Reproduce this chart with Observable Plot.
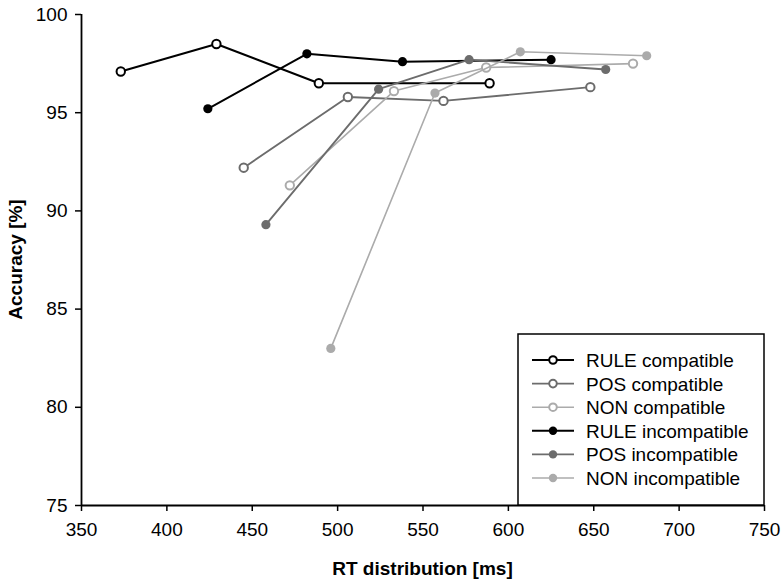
<!DOCTYPE html>
<html>
<head>
<meta charset="utf-8">
<script src="https://cdn.jsdelivr.net/npm/d3@7"></script>
<script src="https://cdn.jsdelivr.net/npm/@observablehq/plot@0.6"></script>
<style>
  body { margin: 0; background: #ffffff; }
  #chart svg { display: block; }
</style>
</head>
<body>
<div id="chart"></div>
<script>
// ---- data ----
const seriesNames = ["RULE compatible", "POS compatible", "NON compatible",
                     "RULE incompatible", "POS incompatible", "NON incompatible"];
const rtRuleCompatible   = [373, 429, 489, 589];
const accRuleCompatible  = [97.1, 98.5, 96.5, 96.5];
const rtPosCompatible    = [445, 506, 562, 648];
const accPosCompatible   = [92.2, 95.8, 95.6, 96.3];
const rtNonCompatible    = [472, 533, 587, 673];
const accNonCompatible   = [91.3, 96.1, 97.3, 97.5];
const rtRuleIncompatible  = [424, 482, 538, 625];
const accRuleIncompatible = [95.2, 98.0, 97.6, 97.7];
const rtPosIncompatible   = [458, 524, 577, 657];
const accPosIncompatible  = [89.3, 96.2, 97.7, 97.2];
const rtNonIncompatible   = [496, 557, 607, 681];
const accNonIncompatible  = [83.0, 96.0, 98.1, 97.9];
const xTicks = [350, 400, 450, 500, 550, 600, 650, 700, 750];
const yTicks = [75, 80, 85, 90, 95, 100];
const xTitle = "RT distribution [ms]";
const yTitle = "Accuracy [%]";

// ---- styling ----
const seriesColors = ["#000000", "#6c6c6c", "#ababab", "#000000", "#6c6c6c", "#ababab"];
const seriesFilled = [false, false, false, true, true, true];
const seriesWidth  = [2, 1.9, 1.6, 2, 1.9, 1.6];

const rts  = [rtRuleCompatible, rtPosCompatible, rtNonCompatible, rtRuleIncompatible, rtPosIncompatible, rtNonIncompatible];
const accs = [accRuleCompatible, accPosCompatible, accNonCompatible, accRuleIncompatible, accPosIncompatible, accNonIncompatible];

const W = 784, H = 585, mL = 81, mR = 20, mT = 14, mB = 80;
const FS = 19;

const marks = [];
seriesNames.forEach((name, i) => {
  const rows = rts[i].map((rt, j) => ({series: name, rt, acc: accs[i][j]}));
  marks.push(Plot.line(rows, {x: "rt", y: "acc", stroke: seriesColors[i], strokeWidth: seriesWidth[i]}));
  marks.push(Plot.dot(rows, {
    x: "rt", y: "acc",
    r: seriesFilled[i] ? 4.6 : 4.2,
    fill: seriesFilled[i] ? seriesColors[i] : "#ffffff",
    stroke: seriesColors[i],
    strokeWidth: seriesFilled[i] ? 0 : 2
  }));
});

const chart = Plot.plot({
  width: W, height: H,
  marginLeft: mL, marginRight: mR, marginTop: mT, marginBottom: mB,
  style: {fontFamily: "'Liberation Sans', Arial, sans-serif", fontSize: FS + "px", color: "#000", background: "#ffffff"},
  x: {domain: [350, 750]},
  y: {domain: [75, 100]},
  marks: [
    Plot.axisX({ticks: xTicks, tickSize: 6, tickPadding: 11, label: null, stroke: "#000", strokeWidth: 1.5, fill: "#000"}),
    Plot.axisY({ticks: yTicks, tickSize: 6, tickPadding: 8, label: null, stroke: "#000", strokeWidth: 1.5, fill: "#000"}),
    Plot.ruleY([75], {stroke: "#000", strokeWidth: 1.8}),
    Plot.ruleX([350], {stroke: "#000", strokeWidth: 1.8}),
    ...marks
  ]
});

document.getElementById("chart").appendChild(chart);

// ---- titles and legend ----
const svg = d3.select(chart);
const plotRight = W - mR, plotBottom = H - mB;

svg.append("text")
  .attr("x", (mL + plotRight) / 2).attr("y", 575)
  .attr("text-anchor", "middle")
  .attr("font-weight", "bold").attr("font-size", FS)
  .attr("fill", "#000")
  .text(xTitle);

svg.append("text")
  .attr("transform", `translate(22,${(mT + plotBottom) / 2}) rotate(-90)`)
  .attr("text-anchor", "middle")
  .attr("font-weight", "bold").attr("font-size", FS)
  .attr("fill", "#000")
  .text(yTitle);

const lgX = 518, lgY = 334, lgW = plotRight - lgX, lgH = plotBottom - lgY;
const lg = svg.append("g").attr("text-anchor", "start");
lg.append("rect")
  .attr("x", lgX).attr("y", lgY).attr("width", lgW).attr("height", lgH)
  .attr("fill", "#ffffff").attr("stroke", "#000").attr("stroke-width", 1.5);

seriesNames.forEach((name, i) => {
  const cy = 360 + i * 23.6;
  lg.append("line")
    .attr("x1", 532).attr("x2", 574).attr("y1", cy).attr("y2", cy)
    .attr("stroke", seriesColors[i]).attr("stroke-width", seriesWidth[i]);
  lg.append("circle")
    .attr("cx", 553).attr("cy", cy)
    .attr("r", seriesFilled[i] ? 4.2 : 3.8)
    .attr("fill", seriesFilled[i] ? seriesColors[i] : "#ffffff")
    .attr("stroke", seriesColors[i])
    .attr("stroke-width", seriesFilled[i] ? 0 : 2);
  lg.append("text")
    .attr("x", 586).attr("y", cy + 7)
    .attr("text-anchor", "start")
    .attr("font-size", FS).attr("fill", "#000")
    .text(name);
});
</script>
</body>
</html>
